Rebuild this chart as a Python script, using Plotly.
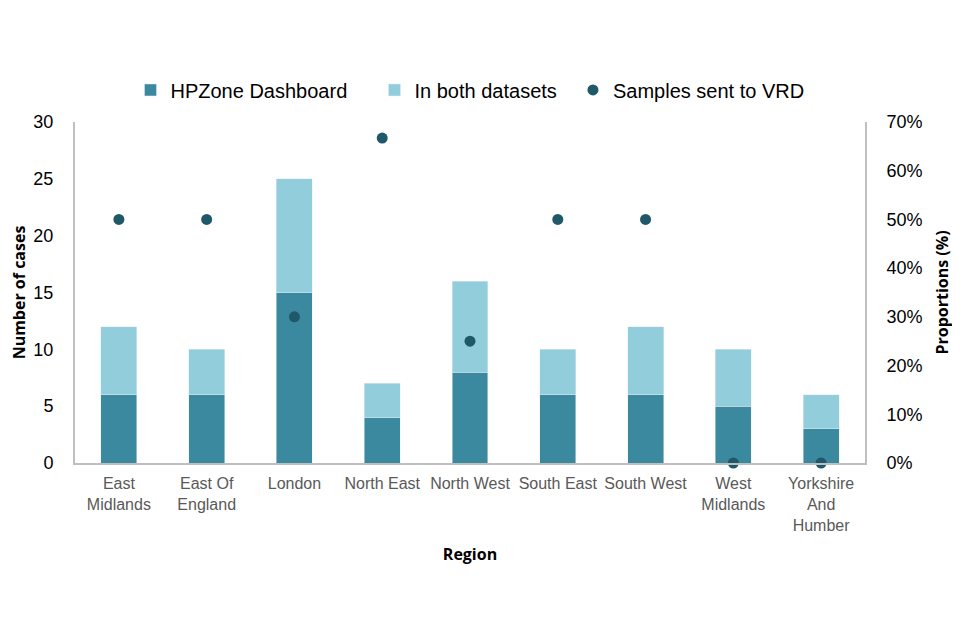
import plotly.graph_objects as go

# data
regions = ['East<br>Midlands', 'East Of<br>England', 'London', 'North East', 'North West',
           'South East', 'South West', 'West<br>Midlands', 'Yorkshire<br>And<br>Humber']
hpzone = [6, 6, 15, 4, 8, 6, 6, 5, 3]
both = [6, 4, 10, 3, 8, 4, 6, 5, 3]
vrd_prop = [0.50, 0.50, 0.30, 0.667, 0.25, 0.50, 0.50, 0.0, 0.0]

dark = '#3a899e'
light = '#92cddc'
dot = '#1f5869'
axis_grey = '#bfbfbf'

fig = go.Figure()
fig.add_trace(go.Bar(x=regions, y=hpzone, name='HPZone Dashboard' + '\u00a0' * 4,
                     marker_color=dark, width=0.41))
fig.add_trace(go.Bar(x=regions, y=both, name='In both datasets' + '\u00a0' * 2,
                     marker_color=light, width=0.41))
fig.add_trace(go.Scatter(x=regions, y=vrd_prop, name='Samples sent to VRD', mode='markers',
                         marker=dict(color=dot, size=11), yaxis='y2', cliponaxis=False))

# page body has an 8px margin, so the figure origin sits at (8, 8)
fig.update_layout(
    barmode='stack',
    width=960, height=640,
    margin=dict(l=67, r=103, t=114, b=185),
    plot_bgcolor='white', paper_bgcolor='white',
    font=dict(family='Liberation Sans, Arial', size=18, color='#000000'),
    legend=dict(orientation='h', x=0.5, xanchor='center', y=1.094, yanchor='middle',
                font=dict(size=20), itemwidth=30, traceorder='normal'),
    xaxis=dict(
        automargin=False,
        showline=True, linecolor=axis_grey, linewidth=2, mirror=False,
        tickfont=dict(family='Liberation Sans, Arial', size=16, color='#595959'),
        ticklabelstandoff=5,
        title=dict(text='<b>Region</b>', font=dict(family='Open Sans', size=16), standoff=16),
        range=[-0.5, 8.5],
    ),
    yaxis=dict(
        automargin=False,
        range=[0, 30], dtick=5, showgrid=False, zeroline=False,
        showline=True, linecolor=axis_grey, linewidth=2,
        ticklabelstandoff=16,
        title=dict(text='<b>Number of cases</b>', font=dict(family='Open Sans', size=16), standoff=14),
    ),
    yaxis2=dict(
        automargin=False,
        range=[0, 0.7], dtick=0.1, tickformat='.0%', overlaying='y', side='right',
        showgrid=False, zeroline=False,
        showline=True, linecolor=axis_grey, linewidth=2,
        ticklabelstandoff=16,
        title=dict(text='<b>Proportions (%)</b>', font=dict(family='Open Sans', size=16), standoff=15),
    ),
)

fig.write_html('out.html')
